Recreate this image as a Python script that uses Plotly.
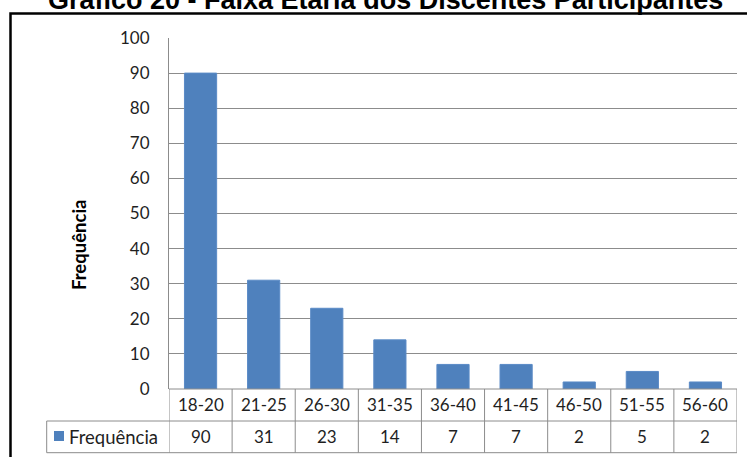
import plotly.graph_objects as go

# Age groups of the participating students and their counts
faixas = ["18-20", "21-25", "26-30", "31-35", "36-40", "41-45", "46-50", "51-55", "56-60"]
frequencia = [90, 31, 23, 14, 7, 7, 2, 5, 2]
y_ticks = list(range(0, 101, 10))

titulo = "Gráfico 20 - Faixa Etária dos Discentes Participantes"
serie = "Frequência"

W, H = 747, 457
L, R, T, B = 169, 737, 38, 389          # plot area in pixels
ROW1, ROW2 = 421, 452.7                 # data-table row bottoms
KEY_LEFT = 46.7                         # left edge of the legend cell

GRID = "#8c8c8c"
BAR = "#4F81BD"
TXT = "#1f1f1f"
FONT = "Lato"


def py(p):
    return (B - p) / (B - T)


def px(p):
    return (p - L) / (R - L)


fig = go.Figure(
    go.Bar(
        x=faixas,
        y=frequencia,
        width=0.51,
        marker=dict(color=BAR, line=dict(color="#5A8AC6", width=1)),
        name=serie,
        showlegend=False,
    )
)

fig.update_layout(
    width=W,
    height=H,
    margin=dict(l=L, r=W - R, t=T, b=H - B, pad=0),
    plot_bgcolor="white",
    paper_bgcolor="white",
    showlegend=False,
    font=dict(family=FONT, size=17, color=TXT),
)
fig.update_xaxes(range=[-0.5, len(faixas) - 0.5], showticklabels=False,
                 showgrid=False, zeroline=False, showline=False, ticks="")
fig.update_yaxes(range=[0, 100], tickvals=y_ticks, showgrid=True,
                 gridcolor=GRID, gridwidth=1, zeroline=False, showline=True,
                 linecolor=GRID, linewidth=1, ticks="", ticklabelstandoff=15,
                 tickfont=dict(family=FONT, size=17, color=TXT))

shapes = []
line = dict(color=GRID, width=1)

# data table grid
shapes.append(dict(type="line", xref="paper", yref="paper",
                   x0=px(L), x1=px(R), y0=py(B), y1=py(B), line=line))
for yy in (ROW1, ROW2):
    shapes.append(dict(type="line", xref="paper", yref="paper",
                       x0=px(KEY_LEFT), x1=px(R), y0=py(yy), y1=py(yy), line=line))
for i in range(len(faixas) + 1):
    shapes.append(dict(type="line", xref="x", yref="paper",
                       x0=i - 0.5, x1=i - 0.5, y0=py(B), y1=py(ROW2), line=line))
shapes.append(dict(type="line", xref="paper", yref="paper",
                   x0=px(KEY_LEFT), x1=px(KEY_LEFT), y0=py(ROW1), y1=py(ROW2), line=line))

# legend key swatch
shapes.append(dict(type="rect", xref="paper", yref="paper",
                   x0=px(54), x1=px(64), y0=py(431), y1=py(441),
                   fillcolor=BAR, line=dict(width=0)))

# outer chart frame
shapes.append(dict(type="rect", xref="paper", yref="paper",
                   x0=px(10.5), x1=px(W + 40), y0=py(13.5), y1=py(H + 40),
                   line=dict(color="black", width=2.5), fillcolor="rgba(0,0,0,0)"))

annotations = []
for cat, val in zip(faixas, frequencia):
    annotations.append(dict(x=cat, y=py((B + ROW1) / 2), xref="x", yref="paper",
                            text=cat, showarrow=False, yanchor="middle",
                            font=dict(family=FONT, size=17, color=TXT)))
    annotations.append(dict(x=cat, y=py((ROW1 + ROW2) / 2), xref="x", yref="paper",
                            text=str(val), showarrow=False, yanchor="middle",
                            font=dict(family=FONT, size=17, color=TXT)))

annotations.append(dict(x=px(67), y=py((ROW1 + ROW2) / 2), xref="paper", yref="paper",
                        text=serie, showarrow=False, xanchor="left", yanchor="middle",
                        font=dict(family=FONT, size=18.5, color=TXT)))

# y-axis title
annotations.append(dict(x=px(79), y=py(245), xref="paper", yref="paper",
                        text="<b>" + serie + "</b>", textangle=-90, showarrow=False,
                        xanchor="center", yanchor="middle",
                        font=dict(family=FONT, size=18.5, color="black")))

# chart title (sits partly above the visible area)
annotations.append(dict(x=px(385), y=py(16.5), xref="paper", yref="paper",
                        text="<b>" + titulo + "</b>", showarrow=False,
                        xanchor="center", yanchor="bottom",
                        font=dict(family="Liberation Sans", size=27, color="black")))

fig.update_layout(shapes=shapes, annotations=annotations)

fig.write_html("out.html")
